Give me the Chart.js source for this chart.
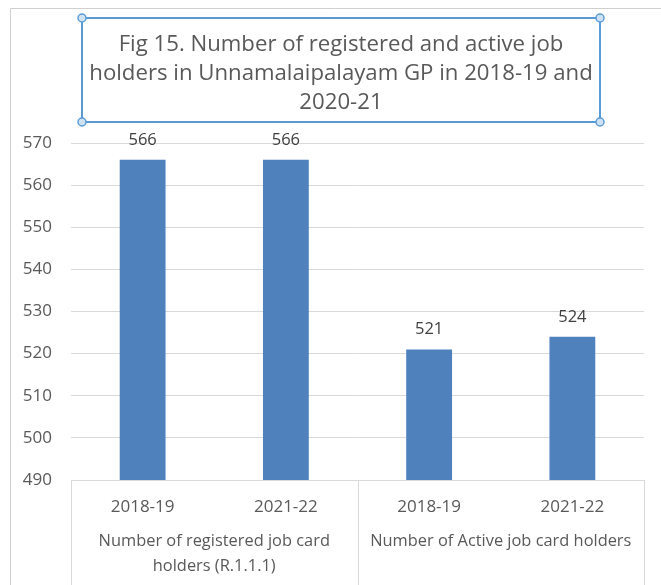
<!DOCTYPE html>
<html>
<head>
<meta charset="utf-8">
<script src="https://cdn.jsdelivr.net/npm/chart.js@4/dist/chart.umd.min.js"></script>
<style>
html,body{margin:0;padding:0;background:#fff;}
#wrap{width:661px;height:585px;position:relative;}
</style>
</head>
<body>
<div id="wrap"><canvas id="c" width="661" height="585"></canvas></div>
<script>
const titleLines = ["Fig 15. Number of registered and active job", "holders in Unnamalaipalayam GP in 2018-19 and", "2020-21"];
const yearLabels = ["2018-19", "2021-22", "2018-19", "2021-22"];
const groupLabels = [["Number of registered job card", "holders (R.1.1.1)"], ["Number of Active job card holders"]];
const groupSizes = [2, 2];
const values = [566, 566, 521, 524];
const yMin = 490, yMax = 570, yStep = 10;

const FONT = "'Open Sans', Lato, sans-serif";
const TXT = "#595959";

const decor = {
  id: 'decor',
  beforeDraw(chart) {
    const ctx = chart.ctx;
    ctx.save();
    ctx.fillStyle = '#fff';
    ctx.fillRect(0, 0, chart.width, chart.height);
    ctx.strokeStyle = '#d0d0d0';
    ctx.lineWidth = 1;
    ctx.beginPath();
    ctx.moveTo(10.5, chart.height);
    ctx.lineTo(10.5, 8.5);
    ctx.lineTo(chart.width, 8.5);
    ctx.stroke();
    ctx.restore();
  },
  afterDraw(chart) {
    const ctx = chart.ctx;
    const x = chart.scales.x, y = chart.scales.y;
    ctx.save();
    ctx.strokeStyle = '#d9d9d9';
    ctx.lineWidth = 1;
    const n = yearLabels.length;
    const step = (x.right - x.left) / n;
    let idx = 0;
    const bounds = [x.left];
    groupSizes.forEach(s => { idx += s; bounds.push(x.left + idx * step); });
    ctx.beginPath();
    bounds.forEach(b => {
      const bx = Math.round(b) + 0.5;
      ctx.moveTo(bx, y.bottom);
      ctx.lineTo(bx, chart.height);
    });
    ctx.stroke();
    ctx.fillStyle = TXT;
    ctx.font = "16.4px " + FONT;
    ctx.textAlign = 'center';
    ctx.textBaseline = 'middle';
    groupLabels.forEach((lines, g) => {
      const cx = (bounds[g] + bounds[g + 1]) / 2;
      lines.forEach((ln, i) => ctx.fillText(ln, cx, 541 + i * 25));
    });
    ctx.fillStyle = '#404040';
    ctx.font = "16.5px " + FONT;
    ctx.textBaseline = 'alphabetic';
    const meta = chart.getDatasetMeta(0);
    meta.data.forEach((bar, i) => {
      ctx.fillText(String(values[i]), bar.x, bar.y - 15);
    });
    const bx0 = 82, by0 = 18, bx1 = 600, by1 = 122;
    ctx.strokeStyle = '#5b9bd5';
    ctx.lineWidth = 2;
    ctx.strokeRect(bx0, by0, bx1 - bx0, by1 - by0);
    ctx.fillStyle = TXT;
    ctx.font = "22.2px " + FONT;
    ctx.textBaseline = 'middle';
    titleLines.forEach((ln, i) => ctx.fillText(ln, (bx0 + bx1) / 2, 45 + i * 29));
    [[bx0, by0], [bx1, by0], [bx0, by1], [bx1, by1]].forEach(([hx, hy]) => {
      ctx.beginPath();
      ctx.arc(hx, hy, 4, 0, Math.PI * 2);
      ctx.fillStyle = '#cfe2f3';
      ctx.fill();
      ctx.lineWidth = 1.5;
      ctx.strokeStyle = '#5b9bd5';
      ctx.stroke();
    });
    ctx.restore();
  }
};

new Chart(document.getElementById('c'), {
  type: 'bar',
  data: {
    labels: yearLabels,
    datasets: [{
      data: values,
      backgroundColor: '#4f81bd',
      barPercentage: 0.32,
      categoryPercentage: 1.0
    }]
  },
  options: {
    responsive: false,
    animation: false,
    devicePixelRatio: 1,
    layout: { padding: { left: 0, right: 17, top: 143, bottom: 0 } },
    plugins: { legend: { display: false }, title: { display: false }, tooltip: { enabled: false } },
    scales: {
      x: {
        grid: { display: false, drawTicks: false },
        border: { display: false },
        ticks: { color: TXT, font: { size: 17, family: FONT }, padding: 17, maxRotation: 0 },
        afterFit(s) { s.height = 105; }
      },
      y: {
        min: yMin, max: yMax,
        grid: { color: '#d9d9d9', drawTicks: false },
        border: { display: false },
        ticks: { stepSize: yStep, color: TXT, font: { size: 17, family: FONT }, padding: 19 },
        afterFit(s) { s.width = 71; }
      }
    }
  },
  plugins: [decor]
});
</script>
</body>
</html>
